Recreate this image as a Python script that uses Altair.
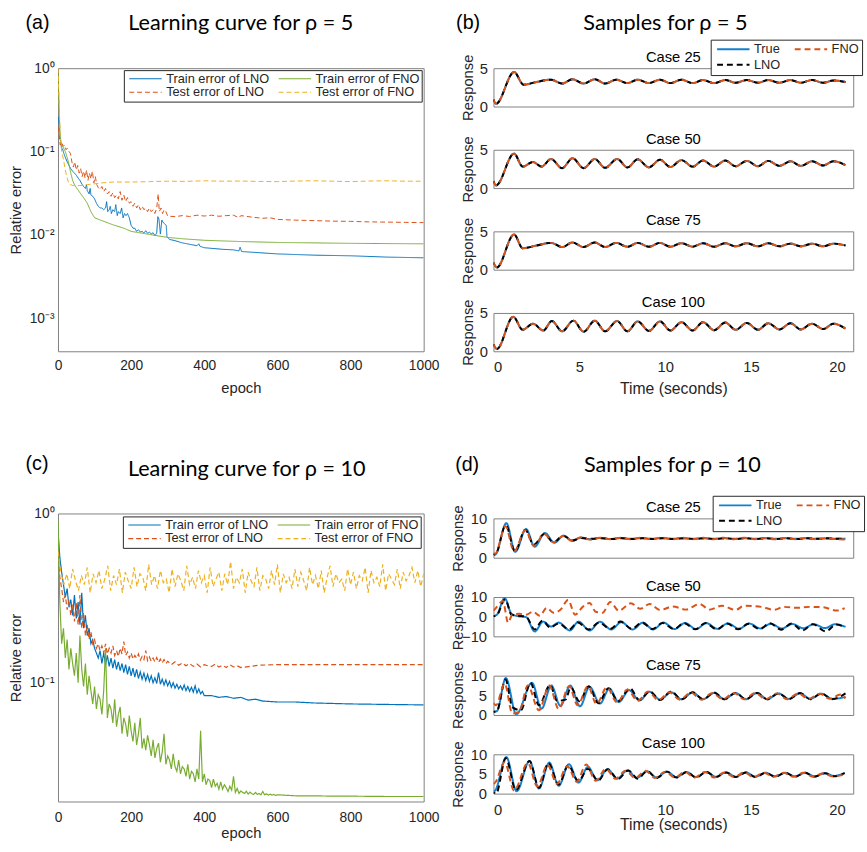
import altair as alt
import pandas as pd

FONT = "Liberation Sans"
TFONT = "Lato"
INK = "#262626"

# ---------------- (a) learning curves, rho = 5 ----------------
A_TRAIN_LNO_EPOCH = [1, 3, 5, 8, 10, 13, 16, 20, 25, 30, 35, 40, 45, 50, 55, 60, 65, 70, 75, 78,
                     80, 85, 88, 90, 95, 100, 105, 110, 115, 120, 125, 130, 133, 136, 140, 143, 146, 150, 155, 158,
                     162, 165, 170, 174, 178, 182, 186, 190, 195, 200, 205, 210, 215, 220, 225, 230, 235, 240, 245, 250,
                     255, 260, 265, 270, 273, 276, 280, 284, 288, 292, 296, 298, 305, 320, 340, 360, 380, 385, 388, 400,
                     450, 480, 495, 498, 502, 550, 600, 700, 800, 900, 1000]
A_TRAIN_LNO = [0.26, 0.22, 0.15, 0.12, 0.11, 0.105, 0.095, 0.085, 0.075, 0.068, 0.062, 0.058, 0.055, 0.052, 0.048,
               0.045, 0.041, 0.038, 0.036, 0.040, 0.034, 0.031, 0.036, 0.030, 0.029, 0.027, 0.024, 0.022, 0.021, 0.021,
               0.020, 0.021, 0.025, 0.019, 0.020, 0.022, 0.018, 0.020, 0.019, 0.023, 0.017, 0.019, 0.018, 0.021, 0.016,
               0.018, 0.017, 0.018, 0.016, 0.013, 0.012, 0.012, 0.011, 0.0115, 0.0108, 0.011, 0.0105, 0.0112, 0.0104,
               0.0108, 0.0102, 0.0106, 0.0098, 0.0105, 0.0165, 0.0155, 0.0102, 0.0150, 0.0140, 0.0135, 0.0130, 0.0095,
               0.0088, 0.0085, 0.0080, 0.0077, 0.0074, 0.0078, 0.0073, 0.0070, 0.0067, 0.0066, 0.0064, 0.0071, 0.0063,
               0.0061, 0.0059, 0.0057, 0.0056, 0.0054, 0.0053]

A_TRAIN_FNO_EPOCH = [0, 2, 4, 6, 10, 15, 20, 25, 30, 35, 40, 45, 50, 60, 70, 80, 90, 100, 120, 150,
                     180, 200, 250, 300, 350, 400, 500, 600, 800, 1000]
A_TRAIN_FNO = [0.85, 0.5, 0.25, 0.15, 0.12, 0.11, 0.10, 0.085, 0.07, 0.055, 0.045, 0.04, 0.037, 0.032, 0.028,
               0.024, 0.019, 0.016, 0.0148, 0.0132, 0.012, 0.011, 0.0101, 0.0093, 0.0089, 0.0086, 0.0083, 0.0081,
               0.0079, 0.0078]

A_TEST_LNO_EPOCH = ([0, 3, 6, 10, 14, 18, 22, 26, 30, 34, 38, 42, 46, 50, 54, 58, 62, 66, 70, 74, 78, 82, 86, 90,
                     94, 98, 102, 106]
                    + list(range(110, 271, 5))
                    + [274, 277, 282, 286, 290, 295, 300, 320, 340, 360, 380, 400, 420, 440, 460, 480, 495, 500,
                       530, 560, 580, 600, 650, 700, 750, 800, 850, 900, 950, 1000])
A_TEST_LNO = ([0.2, 0.16, 0.12, 0.13, 0.115, 0.12, 0.105, 0.11, 0.1, 0.095, 0.075, 0.065, 0.075, 0.06, 0.068,
               0.055, 0.062, 0.05, 0.058, 0.048, 0.06, 0.045, 0.055, 0.047, 0.058, 0.042, 0.05, 0.04]
              + [0.037, 0.035, 0.038, 0.033, 0.036, 0.031, 0.033, 0.029, 0.032, 0.028, 0.030, 0.027, 0.033, 0.026,
                 0.030, 0.025, 0.028, 0.024, 0.025, 0.022, 0.024, 0.021, 0.023, 0.020, 0.022, 0.020, 0.021, 0.019,
                 0.021, 0.019, 0.020, 0.018, 0.021]
              + [0.031, 0.019, 0.021, 0.018, 0.020, 0.019, 0.0168, 0.0165, 0.0170, 0.0166, 0.0172, 0.0168, 0.0172,
                 0.0167, 0.0170, 0.0172, 0.0160, 0.0170, 0.0163, 0.0158, 0.0160, 0.0153, 0.0150, 0.0148, 0.0146,
                 0.0145, 0.0143, 0.0142, 0.0141, 0.0140])

A_TEST_FNO_EPOCH = [0, 3, 6, 10, 15, 20, 25, 30, 40, 60, 80, 100, 120, 150, 200, 250, 300, 350, 400, 450,
                    500, 550, 600, 650, 700, 750, 800, 850, 900, 950, 1000]
A_TEST_FNO = [1.0, 0.4, 0.15, 0.1, 0.08, 0.06, 0.048, 0.041, 0.039, 0.039, 0.040, 0.041, 0.042, 0.043, 0.043,
              0.0435, 0.044, 0.0438, 0.0445, 0.044, 0.0442, 0.0437, 0.0435, 0.0442, 0.0445, 0.044, 0.0435, 0.0442,
              0.0445, 0.044, 0.0440]

# ---------------- (c) learning curves, rho = 10 ----------------
C_TEST_FNO_EPOCH = list(range(0, 1001, 8))
C_TEST_FNO = [0.60, 0.45, 0.38, 0.44, 0.36, 0.47, 0.40, 0.35, 0.43, 0.38,
              0.48, 0.34, 0.44, 0.39, 0.46, 0.36, 0.41, 0.49, 0.35, 0.43,
              0.38, 0.47, 0.34, 0.45, 0.40, 0.36, 0.48, 0.37, 0.44, 0.42,
              0.35, 0.50, 0.38, 0.43, 0.36, 0.46, 0.39, 0.41, 0.34, 0.47,
              0.37, 0.44, 0.40, 0.35, 0.49, 0.38, 0.42, 0.36, 0.46, 0.39,
              0.43, 0.34, 0.48, 0.37, 0.41, 0.45, 0.35, 0.44, 0.38, 0.52,
              0.36, 0.42, 0.39, 0.47, 0.34, 0.45, 0.40, 0.37, 0.48, 0.35,
              0.43, 0.41, 0.36, 0.46, 0.38, 0.50, 0.34, 0.44, 0.39, 0.42,
              0.36, 0.47, 0.37, 0.45, 0.40, 0.35, 0.48, 0.38, 0.43, 0.36,
              0.46, 0.34, 0.42, 0.49, 0.37, 0.44, 0.39, 0.41, 0.35, 0.47,
              0.38, 0.45, 0.36, 0.43, 0.40, 0.48, 0.34, 0.46, 0.39, 0.42,
              0.37, 0.50, 0.35, 0.44, 0.41, 0.38, 0.47, 0.36, 0.45, 0.40,
              0.43, 0.48, 0.39, 0.46, 0.37, 0.44]

C_TEST_LNO_EPOCH = list(range(0, 301, 5)) + list(range(310, 501, 10)) + [550, 600, 700, 800, 900, 1000]
C_TEST_LNO = ([0.60, 0.42, 0.36, 0.30, 0.33, 0.27, 0.31, 0.25, 0.29, 0.23,
               0.30, 0.22, 0.33, 0.21, 0.26, 0.19, 0.22, 0.18, 0.20, 0.17,
               0.18, 0.16, 0.17, 0.155, 0.165, 0.15, 0.17, 0.148, 0.16, 0.15,
               0.165, 0.145, 0.155, 0.143, 0.16, 0.148, 0.175, 0.145, 0.152, 0.14,
               0.15, 0.138, 0.145, 0.14, 0.148, 0.136, 0.143, 0.137, 0.155, 0.135,
               0.142, 0.134, 0.14, 0.133, 0.141, 0.132, 0.138, 0.131, 0.137, 0.13,
               0.134]
              + [0.128, 0.133, 0.127, 0.131, 0.126, 0.130, 0.125, 0.129, 0.124, 0.128,
                 0.126, 0.125, 0.129, 0.124, 0.127, 0.123, 0.128, 0.124, 0.126, 0.123]
              + [0.127, 0.128, 0.128, 0.128, 0.128, 0.128])

C_TRAIN_LNO_EPOCH = list(range(0, 401, 5)) + [420, 440, 460, 480, 500, 520, 540, 560, 600, 650, 700, 800, 900, 1000]
C_TRAIN_LNO = ([0.80, 0.55, 0.45, 0.38, 0.32, 0.36, 0.28, 0.31, 0.25, 0.33,
                0.24, 0.30, 0.22, 0.34, 0.21, 0.25, 0.19, 0.21, 0.17, 0.18,
                0.16, 0.15, 0.14, 0.155, 0.13, 0.15, 0.128, 0.145, 0.125, 0.14,
                0.122, 0.137, 0.12, 0.133, 0.118, 0.13, 0.115, 0.128, 0.112, 0.125,
                0.11, 0.122, 0.108, 0.12, 0.106, 0.116, 0.105, 0.114, 0.103, 0.112,
                0.102, 0.11, 0.1, 0.107, 0.099, 0.115, 0.098, 0.105, 0.097, 0.104,
                0.096, 0.102, 0.094, 0.1, 0.093, 0.098, 0.092, 0.096, 0.091, 0.097,
                0.09, 0.095, 0.089, 0.094, 0.088, 0.096, 0.087, 0.092, 0.086, 0.089,
                0.084]
               + [0.084, 0.082, 0.083, 0.081, 0.082, 0.079, 0.08, 0.078, 0.077, 0.077, 0.076, 0.075, 0.0745, 0.074])

C_TRAIN_FNO_EPOCH = list(range(0, 601, 5)) + [650, 700, 750, 800, 900, 1000]
C_TRAIN_FNO = ([0.90, 0.30, 0.17, 0.21, 0.14, 0.18, 0.12, 0.16, 0.13, 0.11,
                0.15, 0.10, 0.19, 0.12, 0.095, 0.13, 0.085, 0.11, 0.09, 0.075,
                0.095, 0.07, 0.085, 0.08, 0.065, 0.09, 0.16, 0.062, 0.075, 0.07,
                0.058, 0.08, 0.055, 0.065, 0.072, 0.05, 0.062, 0.057, 0.048, 0.064,
                0.052, 0.045, 0.058, 0.043, 0.05, 0.062, 0.041, 0.047, 0.04, 0.049,
                0.043, 0.037, 0.046, 0.036, 0.041, 0.044, 0.034, 0.039, 0.05, 0.033,
                0.037, 0.035, 0.031, 0.038, 0.032, 0.030, 0.035, 0.029, 0.032, 0.031,
                0.028, 0.033, 0.027, 0.030, 0.029, 0.026, 0.031, 0.027, 0.052, 0.026,
                0.029, 0.025, 0.027, 0.0265, 0.024, 0.027, 0.0245, 0.0255, 0.0235, 0.026,
                0.0235, 0.025, 0.024, 0.0228, 0.0245, 0.0232, 0.028, 0.0225, 0.0238, 0.0222,
                0.023, 0.0225, 0.0222, 0.0229, 0.022, 0.0226, 0.0221, 0.0219, 0.0225, 0.0219,
                0.0222, 0.0218, 0.0228, 0.0218, 0.0221, 0.0217, 0.022, 0.0217, 0.0219, 0.0216,
                0.0218]
               + [0.0215, 0.0215, 0.0214, 0.0214, 0.0213, 0.0213])

# ---------------- (b) samples, rho = 5 (True, LNO and FNO coincide) ----------------
B_CASE25 = [(0, 0.9), (0.15, 0.35), (1.2, 4.5), (1.75, 2.85), (2.5, 3.2), (3.35, 3.5), (4.0, 3.0), (4.6, 3.55),
            (5.25, 3.0), (5.9, 3.55), (6.5, 3.0), (7.15, 3.5), (7.8, 3.05), (8.4, 3.5), (9.05, 3.05), (9.7, 3.5),
            (10.3, 3.05), (10.95, 3.5), (11.6, 3.05), (12.2, 3.45), (12.85, 3.05), (13.5, 3.45), (14.1, 3.1),
            (14.75, 3.45), (15.4, 3.1), (16.0, 3.45), (16.65, 3.1), (17.3, 3.45), (17.9, 3.1), (18.55, 3.45),
            (19.2, 3.1), (19.8, 3.4), (20.5, 3.2)]
B_CASE50 = [(0, 0.9), (0.15, 0.35), (1.2, 4.5), (1.7, 2.8), (2.3, 3.4), (2.8, 2.8), (3.35, 3.8), (4.0, 2.6),
            (4.6, 3.9), (5.25, 2.6), (5.9, 3.8), (6.5, 2.65), (7.2, 3.8), (7.8, 2.7), (8.4, 3.75), (9.05, 2.7),
            (9.7, 3.7), (10.3, 2.75), (10.95, 3.65), (11.6, 2.8), (12.2, 3.6), (12.85, 2.8), (13.5, 3.6),
            (14.1, 2.85), (14.75, 3.55), (15.4, 2.85), (16.0, 3.55), (16.65, 2.9), (17.3, 3.5), (17.9, 2.9),
            (18.55, 3.5), (19.2, 2.95), (19.8, 3.5), (20.5, 3.0)]
B_CASE75 = [(0, 0.9), (0.2, 0.3), (1.2, 4.6), (1.7, 2.8), (2.5, 3.15), (3.35, 3.5), (4.0, 2.95), (4.6, 3.55),
            (5.25, 2.95), (5.9, 3.55), (6.5, 2.95), (7.15, 3.5), (7.8, 3.0), (8.4, 3.5), (9.05, 3.0), (9.7, 3.5),
            (10.3, 3.0), (10.95, 3.45), (11.6, 3.0), (12.2, 3.45), (12.85, 3.0), (13.5, 3.45), (14.1, 3.05),
            (14.75, 3.45), (15.4, 3.05), (16.0, 3.45), (16.65, 3.05), (17.3, 3.4), (17.9, 3.05), (18.55, 3.4),
            (19.2, 3.05), (19.8, 3.4), (20.5, 3.15)]
B_CASE100 = [(0, 0.9), (0.2, 0.3), (1.15, 4.5), (1.7, 2.8), (2.3, 3.6), (2.9, 2.7), (3.4, 3.95), (4.0, 2.6),
             (4.65, 4.0), (5.25, 2.55), (5.9, 4.0), (6.5, 2.6), (7.2, 3.95), (7.8, 2.6), (8.4, 3.9), (9.05, 2.65),
             (9.7, 3.9), (10.3, 2.7), (10.95, 3.8), (11.6, 2.7), (12.2, 3.8), (12.85, 2.75), (13.5, 3.75),
             (14.1, 2.8), (14.75, 3.7), (15.4, 2.8), (16.0, 3.65), (16.65, 2.85), (17.3, 3.65), (17.9, 2.85),
             (18.55, 3.6), (19.2, 2.9), (19.8, 3.6), (20.5, 2.95)]

# ---------------- (d) samples, rho = 10 ----------------
D25_TRUE = [(0, 1.0), (0.1, 0.8), (0.75, 8.8), (1.27, 1.5), (1.9, 7.3), (2.4, 2.8), (3.0, 6.3), (3.55, 3.8),
            (4.1, 5.6), (4.6, 4.3), (5.1, 5.1), (5.65, 4.7), (6.2, 5.0), (6.8, 4.75), (7.4, 5.0), (8.0, 4.8),
            (8.6, 5.0), (9.2, 4.8), (9.8, 5.0), (10.4, 4.8), (11.0, 4.95), (11.6, 4.8), (12.2, 4.95), (12.8, 4.8),
            (13.4, 4.95), (14.0, 4.8), (14.6, 4.95), (15.2, 4.8), (15.8, 4.95), (16.4, 4.8), (17.0, 4.95),
            (17.6, 4.8), (18.2, 4.95), (18.8, 4.8), (19.4, 4.9), (20.0, 4.8), (20.5, 4.8)]
D25_FNO = [(0, 1.2), (0.1, 1.0), (0.7, 8.0), (1.2, 1.6), (1.85, 7.0), (2.35, 3.0), (2.95, 6.0), (3.5, 3.9),
           (4.05, 5.5), (4.55, 4.3), (5.1, 5.2), (5.6, 4.6), (6.2, 5.1), (6.8, 4.7), (7.4, 5.1), (8.0, 4.7),
           (8.6, 5.1), (9.2, 4.7), (9.8, 5.1), (10.4, 4.7), (11.0, 5.1), (11.6, 4.7), (12.2, 5.1), (12.8, 4.7),
           (13.4, 5.1), (14.0, 4.7), (14.6, 5.1), (15.2, 4.7), (15.8, 5.0), (16.4, 4.7), (17.0, 5.0), (17.6, 4.7),
           (18.2, 5.0), (18.8, 4.7), (19.4, 5.0), (20.0, 4.7), (20.5, 4.6)]
D25_LNO = [(0, 1.0), (0.1, 0.8), (0.72, 8.3), (1.25, 1.6), (1.85, 7.1), (2.35, 3.3), (2.95, 6.0), (3.5, 3.9),
           (4.05, 5.6), (4.6, 4.4), (5.1, 5.0), (5.7, 4.8), (6.3, 4.95), (6.9, 4.75), (7.5, 4.95), (8.1, 4.75),
           (8.7, 4.95), (9.3, 4.75), (9.9, 4.95), (10.5, 4.75), (11.1, 4.95), (11.7, 4.75), (12.3, 4.95),
           (12.9, 4.75), (13.5, 4.95), (14.1, 4.75), (14.7, 4.95), (15.3, 4.75), (15.9, 4.95), (16.5, 4.75),
           (17.1, 4.95), (17.7, 4.75), (18.3, 4.95), (18.9, 4.8), (19.5, 4.95), (20.1, 4.8), (20.5, 4.9)]

D50_TRUE = [(0, 0.3), (0.2, 1.0), (0.65, 9.5), (1.05, 1.5), (1.4, 0.3), (1.9, -0.2), (2.4, -7.5), (2.9, -2.5),
            (3.35, -5.0), (3.8, -3.0), (4.45, -7.0), (4.95, -2.5), (5.6, -7.0), (6.2, -2.6), (6.85, -6.5),
            (7.45, -2.8), (8.1, -6.5), (8.7, -3.0), (9.3, -6.5), (9.9, -3.0), (10.55, -6.3), (11.15, -3.2),
            (11.8, -6.3), (12.4, -3.3), (13.05, -6.2), (13.65, -3.4), (14.3, -6.1), (14.9, -3.5), (15.55, -6.0),
            (16.15, -3.6), (16.8, -6.0), (17.4, -3.7), (18.05, -5.9), (18.65, -3.8), (19.3, -5.8), (19.9, -3.8),
            (20.5, -5.2)]
D50_LNO = [(0, 0.2), (0.2, 0.8), (0.68, 8.8), (1.05, 1.0), (1.4, 0.5), (1.9, 0.0), (2.4, -6.5), (2.85, -2.0),
           (3.3, -5.5), (3.8, -3.5), (4.4, -6.5), (4.9, -3.0), (5.55, -6.5), (6.15, -3.0), (6.8, -6.2),
           (7.4, -2.5), (8.05, -6.2), (8.65, -3.0), (9.25, -6.3), (9.85, -3.2), (10.5, -6.3), (11.1, -3.3),
           (11.75, -6.4), (12.35, -3.2), (13.0, -6.4), (13.6, -3.5), (14.25, -6.4), (14.85, -3.6), (15.5, -6.3),
           (16.1, -3.3), (16.75, -6.6), (17.35, -3.5), (18.0, -7.0), (18.6, -3.8), (19.35, -7.5), (19.95, -4.0),
           (20.5, -5.5)]
D50_FNO = [(0, 3.0), (0.15, 4.5), (0.55, 8.0), (0.85, -3.0), (1.1, 1.0), (1.5, 1.5), (1.9, 1.0), (2.3, 2.5),
           (2.7, 0.5), (3.1, 4.5), (3.5, 2.0), (3.9, 3.5), (4.35, 8.5), (4.75, 1.0), (5.2, 5.0), (5.6, 7.0),
           (5.95, 2.5), (6.35, 2.0), (6.8, 7.5), (7.3, 3.0), (8.0, 6.8), (8.55, 4.0), (9.1, 6.5), (9.7, 3.4),
           (10.45, 5.2), (11.2, 3.6), (12.0, 6.4), (12.6, 3.6), (13.3, 5.6), (14.1, 3.4), (14.6, 5.6),
           (15.6, 5.0), (16.35, 3.5), (16.9, 5.0), (17.7, 4.5), (18.4, 5.0), (19.2, 4.8), (20.0, 3.1),
           (20.45, 4.4)]

D75_TRUE = [(0, 0.8), (0.2, 1.0), (0.72, 9.4), (1.33, 0.2), (2.24, 8.2), (2.8, 1.6), (3.37, 7.5), (3.9, 2.3),
            (4.47, 7.5), (5.04, 2.2), (5.6, 7.2), (6.2, 2.9), (6.75, 6.7), (7.3, 3.3), (7.9, 6.3), (8.5, 3.7),
            (9.1, 5.9), (9.7, 3.9), (10.35, 5.8), (10.95, 4.0), (11.6, 5.7), (12.2, 4.0), (12.85, 5.6),
            (13.45, 4.0), (14.1, 5.6), (14.7, 4.0), (15.35, 5.6), (15.95, 4.0), (16.6, 5.5), (17.2, 4.1),
            (17.85, 5.5), (18.45, 4.1), (19.1, 5.4), (19.75, 4.1), (20.5, 4.6)]
D75_FNO = [(0, 3.0), (0.15, 2.5), (0.65, 8.0), (1.1, 0.4), (1.5, 0.8), (2.0, 7.5), (2.65, 1.2), (3.25, 7.5),
           (3.8, 1.5), (4.4, 7.3), (4.9, 2.5), (5.5, 7.3), (6.0, 2.8), (6.6, 7.0), (7.2, 3.2), (7.8, 6.5),
           (8.4, 3.6), (9.0, 6.0), (9.6, 3.8), (10.25, 5.8), (10.85, 3.9), (11.5, 5.7), (12.1, 3.9), (12.75, 5.6),
           (13.35, 4.0), (14.0, 5.6), (14.6, 4.0), (15.25, 5.6), (15.85, 4.0), (16.5, 5.5), (17.1, 4.0),
           (17.75, 5.5), (18.35, 4.1), (19.0, 5.4), (19.6, 4.1), (20.2, 5.2), (20.5, 4.2)]
D75_LNO = [(0, 0.8), (0.2, 1.0), (0.7, 9.0), (1.1, 2.0), (1.6, 1.2), (2.15, 8.2), (2.65, 2.5), (3.3, 7.6),
           (3.7, 3.6), (4.2, 3.9), (4.5, 7.0), (5.0, 3.5), (5.55, 7.3), (6.1, 3.0), (6.7, 6.8), (7.25, 3.5),
           (7.95, 6.8), (8.5, 3.8), (9.1, 6.0), (9.7, 3.8), (10.35, 6.0), (10.95, 4.0), (11.6, 5.8), (12.2, 4.0),
           (12.85, 5.7), (13.45, 4.0), (14.1, 5.6), (14.7, 4.0), (15.35, 5.6), (15.95, 4.0), (16.6, 5.5),
           (17.2, 4.0), (17.85, 5.6), (18.45, 4.0), (19.1, 5.5), (19.7, 4.0), (20.5, 5.5)]

D100_TRUE = [(0, 0.5), (0.1, 0.8), (0.75, 9.3), (1.35, 0.6), (2.1, 8.3), (2.65, 1.3), (3.25, 7.9), (3.8, 2.0),
             (4.4, 7.5), (4.95, 2.8), (5.5, 6.8), (6.05, 3.4), (6.65, 6.2), (7.2, 3.8), (7.8, 5.9), (8.35, 4.0),
             (8.95, 5.7), (9.5, 4.1), (10.1, 5.6), (10.65, 4.2), (11.25, 5.5), (11.8, 4.2), (12.4, 5.5),
             (12.95, 4.3), (13.55, 5.4), (14.1, 4.3), (14.7, 5.4), (15.25, 4.3), (15.85, 5.3), (16.4, 4.4),
             (17.0, 5.3), (17.55, 4.4), (18.15, 5.3), (18.7, 4.4), (19.3, 5.2), (19.85, 4.5), (20.45, 5.3)]
D100_FNO = [(0, 2.5), (0.1, 2.8), (0.65, 8.0), (1.2, 0.8), (2.0, 7.8), (2.55, 1.8), (3.15, 7.3), (3.7, 2.5),
            (4.3, 7.0), (4.85, 3.0), (5.4, 7.4), (5.95, 3.3), (6.55, 6.3), (7.1, 3.8), (7.7, 5.8), (8.25, 4.0),
            (8.85, 5.8), (9.4, 4.0), (10.0, 5.6), (10.55, 4.1), (11.15, 5.5), (11.7, 4.1), (12.3, 5.5),
            (12.85, 4.1), (13.45, 5.4), (14.0, 4.2), (14.6, 5.4), (15.15, 4.2), (15.75, 5.3), (16.3, 4.3),
            (16.9, 5.3), (17.45, 4.3), (18.05, 5.3), (18.6, 4.3), (19.2, 5.2), (19.75, 4.4), (20.45, 4.8)]
D100_LNO = [(0, 0.3), (0.15, 0.0), (0.72, 9.0), (1.3, 0.9), (2.1, 8.3), (2.65, 1.5), (3.2, 7.8), (3.8, 2.3),
            (4.35, 7.2), (4.95, 3.2), (5.5, 6.3), (6.1, 3.3), (6.65, 6.2), (7.25, 3.7), (7.85, 5.9), (8.4, 3.8),
            (8.95, 5.7), (9.5, 4.0), (10.1, 5.6), (10.65, 4.1), (11.25, 5.5), (11.8, 4.1), (12.4, 5.5),
            (12.95, 4.2), (13.55, 5.4), (14.1, 4.2), (14.7, 5.4), (15.25, 4.2), (15.85, 5.3), (16.4, 4.3),
            (17.0, 5.3), (17.55, 4.3), (18.15, 5.3), (18.7, 4.3), (19.3, 5.2), (19.85, 4.4), (20.45, 5.2)]

# ---------------- names, colours, ticks ----------------
# legend entries fill column by column: (train LNO, test LNO) then (train FNO, test FNO)
LC_NAMES_A = ["Train error of LNO", "Test error  of LNO", "Train error of FNO", "Test error of FNO"]
LC_NAMES_C = ["Train error of LNO", "Test error of LNO", "Train error of FNO", "Test error of FNO"]
LC_COLORS = ["#0072BD", "#D95319", "#77AC30", "#EDB120"]
LC_DASHES = [[1, 0], [5, 3], [1, 0], [5, 3]]
EPOCH_TICKS = [0, 200, 400, 600, 800, 1000]
LOG_TICKS_A = [0.001, 0.01, 0.1, 1]
LOG_TICKS_C = [0.1, 1]

S_NAMES = ["True", "LNO", "FNO"]
S_COLORS = ["#1380CF", "#000000", "#D95319"]
S_DASHES = [[1, 0], [6, 4], [6, 4]]
TIME_TICKS = [0, 5, 10, 15, 20]

LOG_EXPR = ("datum.value >= 0.5 ? '10⁰' : datum.value >= 0.05 ? '10⁻¹' : "
            "datum.value >= 0.005 ? '10⁻²' : '10⁻³'")
LEGEND_SYMBOL = "M-0.6,0H6"

LEFT_W, RIGHT_W = 372, 366


def label_layer(text, x, y, size, font, align="left"):
    return alt.Chart(pd.DataFrame({"label": [text]})).mark_text(
        font=font, fontSize=size, align=align, baseline="middle", color="black"
    ).encode(x=alt.value(x), y=alt.value(y), text="label:N")


def learning_panel(parts, names, y_domain, y_ticks, height, title, tag, title_x, title_y, tag_y,
                   legend_offset, x_label_pad, x_extent, line_w):
    df = pd.concat([pd.DataFrame({"epoch": ep, "err": val, "series": nm}) for nm, ep, val in parts],
                   ignore_index=True)
    legend = alt.Legend(title=None, orient="top-right", offset=legend_offset, columns=2,
                        symbolType=LEGEND_SYMBOL, symbolSize=100, symbolStrokeWidth=1.2,
                        labelFont=FONT, labelFontSize=13, labelColor=INK, labelLimit=0,
                        strokeColor=INK, fillColor="white", padding=2, rowPadding=0,
                        columnPadding=6, labelOffset=28)
    color = alt.Color("series:N", scale=alt.Scale(domain=names, range=LC_COLORS), legend=legend)
    dash = alt.StrokeDash("series:N", scale=alt.Scale(domain=names, range=LC_DASHES), legend=legend)
    x = alt.X("epoch:Q", scale=alt.Scale(domain=[0, 1000], nice=False, zero=False),
              axis=alt.Axis(values=EPOCH_TICKS, format="d", title="epoch", labelPadding=x_label_pad,
                            labelFlush=False, minExtent=x_extent, maxExtent=x_extent, titlePadding=0))
    y = alt.Y("err:Q", scale=alt.Scale(type="log", domain=y_domain, nice=False),
              axis=alt.Axis(values=y_ticks, labelExpr=LOG_EXPR, title="Relative error", labelPadding=4,
                            minExtent=33, maxExtent=33, titlePadding=2))
    # drawing order: train LNO, test LNO, train FNO, test FNO
    layers = [alt.Chart(df).transform_filter(alt.datum.series == nm)
              .mark_line(strokeWidth=line_w, clip=True)
              .encode(x=x, y=y, color=color, strokeDash=dash) for nm in names]
    layers.append(label_layer(tag, -33, tag_y, 20, FONT))
    layers.append(label_layer(title, title_x, title_y, 22, TFONT, align="center"))
    return alt.layer(*layers).properties(width=LEFT_W, height=height)


def pts(points, name):
    return pd.DataFrame(points, columns=["t", "y"]).assign(series=name)


def sample_panel(case, true_pts, lno_pts, fno_pts, y_domain, y_ticks, y_extent, y_pad, height,
                 show_x=False, x_extent=30, x_pad=10, legend_xy=None, extra=()):
    df = pd.concat([pts(true_pts, "True"), pts(lno_pts, "LNO"), pts(fno_pts, "FNO")], ignore_index=True)
    if legend_xy:
        legend = alt.Legend(title=None, orient="none", legendX=legend_xy[0], legendY=legend_xy[1],
                            columns=2, symbolType=LEGEND_SYMBOL, symbolSize=100, symbolStrokeWidth=2,
                            labelFont=FONT, labelFontSize=13, labelColor=INK, labelLimit=0,
                            strokeColor=INK, fillColor="white", padding=3, rowPadding=2,
                            columnPadding=10, labelOffset=28)
    else:
        legend = None
    color = alt.Color("series:N", scale=alt.Scale(domain=S_NAMES, range=S_COLORS), legend=legend)
    dash = alt.StrokeDash("series:N", scale=alt.Scale(domain=S_NAMES, range=S_DASHES), legend=legend)
    if show_x:
        xaxis = alt.Axis(values=TIME_TICKS, title="Time (seconds)", titleFontSize=16, labelFontSize=15,
                         labelPadding=x_pad, minExtent=x_extent, maxExtent=x_extent, titlePadding=0)
    else:
        xaxis = None
    x = alt.X("t:Q", scale=alt.Scale(domain=[0, 20.95], nice=False, zero=False), axis=xaxis)
    y = alt.Y("y:Q", scale=alt.Scale(domain=y_domain, nice=False, zero=False),
              axis=alt.Axis(values=y_ticks, title="Response", labelFontSize=15, labelPadding=y_pad,
                            minExtent=y_extent, maxExtent=y_extent, titlePadding=4))
    layers = []
    for name, offset in (("True", 0), ("LNO", 4), ("FNO", 0)):
        layers.append(alt.Chart(df).transform_filter(alt.datum.series == name)
                      .mark_line(strokeWidth=2, interpolate="monotone", clip=True, strokeDashOffset=offset)
                      .encode(x=x, y=y, color=color, strokeDash=dash))
    layers.append(label_layer(case, RIGHT_W / 2, -11, 15, FONT, align="center"))
    layers.extend(extra)
    return alt.layer(*layers).properties(width=RIGHT_W, height=height)


def independent(ch):
    return ch.resolve_scale(color="independent", strokeDash="independent").resolve_legend(
        color="independent", strokeDash="independent")


panel_a = learning_panel(
    [(LC_NAMES_A[0], A_TRAIN_LNO_EPOCH, A_TRAIN_LNO), (LC_NAMES_A[1], A_TEST_LNO_EPOCH, A_TEST_LNO),
     (LC_NAMES_A[2], A_TRAIN_FNO_EPOCH, A_TRAIN_FNO), (LC_NAMES_A[3], A_TEST_FNO_EPOCH, A_TEST_FNO)],
    LC_NAMES_A, [4e-4, 1], LOG_TICKS_A, 288, "Learning curve for ρ = 5", "(a)",
    LEFT_W / 2, -46, -46, 2, 8, 30, 1.0)

panel_c = learning_panel(
    [(LC_NAMES_C[0], C_TRAIN_LNO_EPOCH, C_TRAIN_LNO), (LC_NAMES_C[1], C_TEST_LNO_EPOCH, C_TEST_LNO),
     (LC_NAMES_C[2], C_TRAIN_FNO_EPOCH, C_TRAIN_FNO), (LC_NAMES_C[3], C_TEST_FNO_EPOCH, C_TEST_FNO)],
    LC_NAMES_C, [0.0199, 1], LOG_TICKS_C, 293, "Learning curve for ρ = 10", "(c)",
    192, -45, -50, 3, 9, 25, 1.2)

B_H, D_H = 39, 40
b_panels = [
    sample_panel("Case 25", B_CASE25, B_CASE25, B_CASE25, [0, 5], [0, 5], 14, 6, B_H,
                 legend_xy=(221, -29),
                 extra=(label_layer("(b)", -38, -46, 20, FONT),
                        label_layer("Samples for ρ = 5", 175, -46, 22, TFONT, align="center"))),
    sample_panel("Case 50", B_CASE50, B_CASE50, B_CASE50, [0, 5], [0, 5], 14, 6, B_H),
    sample_panel("Case 75", B_CASE75, B_CASE75, B_CASE75, [0, 5], [0, 5], 14, 6, B_H),
    sample_panel("Case 100", B_CASE100, B_CASE100, B_CASE100, [0, 5], [0, 5], 14, 6, B_H,
                 show_x=True, x_extent=30, x_pad=9),
]
d_panels = [
    sample_panel("Case 25", D25_TRUE, D25_LNO, D25_FNO, [0, 10], [0, 5, 10], 24, 7, D_H,
                 legend_xy=(223, -23),
                 extra=(label_layer("(d)", -39, -54, 20, FONT),
                        label_layer("Samples for ρ = 10", 182, -54, 22, TFONT, align="center"))),
    sample_panel("Case 50", D50_TRUE, D50_LNO, D50_FNO, [-10, 10], [-10, 0, 10], 24, 7, D_H),
    sample_panel("Case 75", D75_TRUE, D75_LNO, D75_FNO, [0, 10], [0, 5, 10], 24, 7, D_H),
    sample_panel("Case 100", D100_TRUE, D100_LNO, D100_FNO, [0, 10], [0, 5, 10], 24, 7, D_H,
                 show_x=True, x_extent=24, x_pad=9),
]

b_block = independent(alt.vconcat(*b_panels, spacing=44, bounds="flush"))
d_block = independent(alt.vconcat(*d_panels, spacing=40, bounds="flush"))
right_col = independent(alt.vconcat(b_block, d_block, spacing=57))
left_col = independent(alt.vconcat(panel_a, panel_c, spacing=58))

chart = independent(alt.hconcat(left_col, right_col, spacing=10)).configure(
    padding={"left": 8, "top": 4, "right": 2, "bottom": 2}, background="white"
).configure_view(
    stroke="#808080", strokeWidth=1
).configure_axis(
    labelFont=FONT, titleFont=FONT, labelColor=INK, titleColor=INK, labelFontSize=14, titleFontSize=15,
    titleFontWeight="normal", domain=False, ticks=False, tickSize=0, grid=False
)

chart.save("out.html", embed_options={"renderer": "svg", "actions": False})
